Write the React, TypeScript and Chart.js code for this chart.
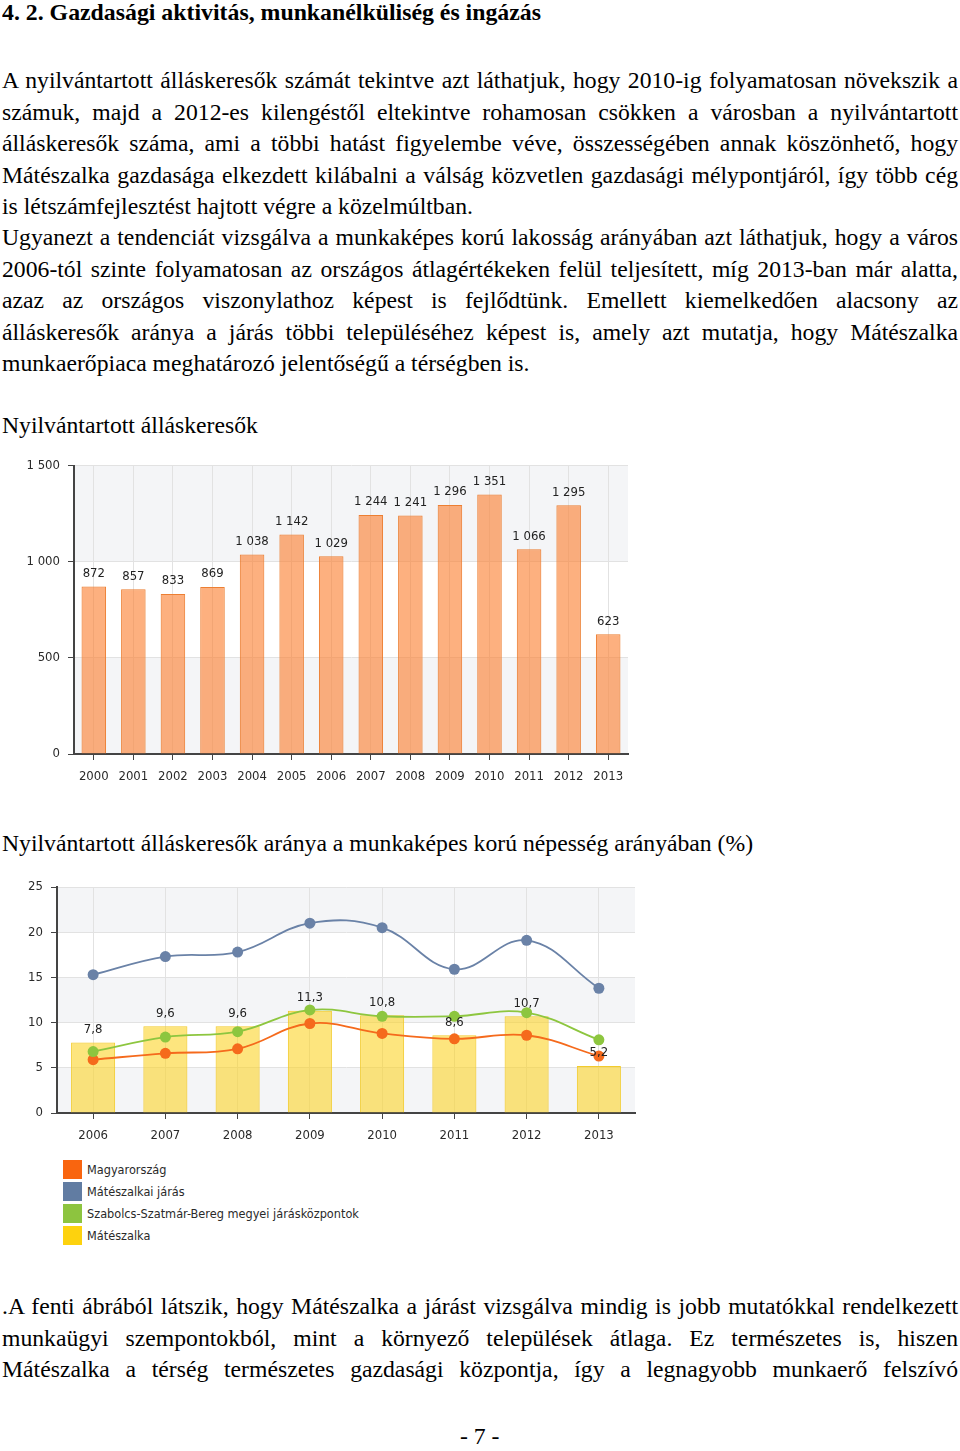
import React, { useEffect, useLayoutEffect, useRef } from 'react';
import { Chart, registerables } from 'chart.js';

Chart.register(...registerables);

// ---------- data ----------
const seekerYears = ['2000', '2001', '2002', '2003', '2004', '2005', '2006', '2007', '2008', '2009', '2010', '2011', '2012', '2013'];
const seekerCounts = [872, 857, 833, 869, 1038, 1142, 1029, 1244, 1241, 1296, 1351, 1066, 1295, 623];
const seekerTicks = [0, 500, 1000, 1500];

const rateYears = ['2006', '2007', '2008', '2009', '2010', '2011', '2012', '2013'];
const rateMateszalka = [7.8, 9.6, 9.6, 11.3, 10.8, 8.6, 10.7, 5.2];
const rateHungary = [5.9, 6.6, 7.1, 9.9, 8.8, 8.2, 8.6, 6.3];
const rateDistrict = [15.3, 17.3, 17.8, 21.0, 20.5, 15.9, 19.1, 13.8];
const rateCountyCentres = [6.8, 8.4, 9.0, 11.4, 10.7, 10.7, 11.1, 8.1];
const rateTicks = [0, 5, 10, 15, 20, 25];

const legendItems = [
  { label: 'Magyarország', color: '#F9650F' },
  { label: 'Mátészalkai járás', color: '#617CA2' },
  { label: 'Szabolcs-Szatmár-Bereg megyei járásközpontok', color: '#8DC43F' },
  { label: 'Mátészalka', color: '#FDD20E' },
];

const para1 = [
  'A nyilvántartott álláskeresők számát tekintve azt láthatjuk, hogy 2010-ig folyamatosan növekszik a',
  'számuk, majd a 2012-es kilengéstől eltekintve rohamosan csökken a városban a nyilvántartott',
  'álláskeresők száma, ami a többi hatást figyelembe véve, összességében annak köszönhető, hogy',
  'Mátészalka gazdasága elkezdett kilábalni a válság közvetlen gazdasági mélypontjáról, így több cég',
  'is létszámfejlesztést hajtott végre a közelmúltban.',
  'Ugyanezt a tendenciát vizsgálva a munkaképes korú lakosság arányában azt láthatjuk, hogy a város',
  '2006-tól szinte folyamatosan az országos átlagértékeken felül teljesített, míg 2013-ban már alatta,',
  'azaz az országos viszonylathoz képest is fejlődtünk. Emellett kiemelkedően alacsony az',
  'álláskeresők aránya a járás többi településéhez képest is, amely azt mutatja, hogy Mátészalka',
  'munkaerőpiaca meghatározó jelentőségű a térségben is.',
];
const para1Justify = [true, true, true, true, false, true, true, true, true, false];
const para3 = [
  '.A fenti ábrából látszik, hogy Mátészalka a járást vizsgálva mindig is jobb mutatókkal rendelkezett',
  'munkaügyi szempontokból, mint a környező települések átlaga. Ez természetes is, hiszen',
  'Mátészalka a térség természetes gazdasági központja, így a legnagyobb munkaerő felszívó',
];

// ---------- layout constants ----------
const TEXT_W = 956;
const FS = 23.7;
const LH = 31.4;
const SERIF = "'Liberation Serif', 'Times New Roman', serif";
const SANS = "'DejaVu Sans Condensed', 'DejaVu Sans', sans-serif";
const TICK_FONT = { family: SANS, size: 13 };

const fmtThousands = (v: number) => String(v).replace(/\B(?=(\d{3})+(?!\d))/g, ' ');
const fmtComma = (v: number) => String(v).replace('.', ',');

function TextLine({ text, baseline, justify, bold, size = FS, left = 2, fitWidth }: any) {
  const ref = useRef<HTMLSpanElement>(null);
  useLayoutEffect(() => {
    const el = ref.current;
    if (!el) return;
    el.style.wordSpacing = '0px';
    el.style.transform = 'none';
    const w = el.getBoundingClientRect().width;
    if (fitWidth) {
      el.style.transform = `scaleX(${fitWidth / w})`;
    } else if (justify) {
      const spaces = (text.match(/ /g) || []).length;
      if (w < TEXT_W && spaces) el.style.wordSpacing = `${(TEXT_W - w) / spaces}px`;
      else if (w > TEXT_W) el.style.transform = `scaleX(${TEXT_W / w})`;
    }
  }, [text, justify, fitWidth]);
  const asc = (LH - 1.107 * size) / 2 + 0.891 * size;
  return (
    <span
      ref={ref}
      style={{
        position: 'absolute',
        left,
        top: baseline - asc,
        whiteSpace: 'pre',
        fontSize: size,
        lineHeight: `${LH}px`,
        fontWeight: bold ? 700 : 400,
        transformOrigin: 'left center',
        display: 'inline-block',
      }}
    >
      {text}
    </span>
  );
}

const bandPlugin = {
  id: 'bands',
  beforeDraw(chart: any) {
    const { ctx, chartArea, scales } = chart;
    const y = scales.y;
    const vals = y.ticks.map((t: any) => t.value);
    ctx.save();
    ctx.fillStyle = '#F4F5F7';
    for (let i = 0; i < vals.length - 1; i++) {
      if (i % 2 === 0) {
        const y0 = y.getPixelForValue(vals[i]);
        const y1 = y.getPixelForValue(vals[i + 1]);
        ctx.fillRect(chartArea.left, y1, chartArea.right - chartArea.left, y0 - y1);
      }
    }
    ctx.restore();
  },
};

function makeValueLabels(datasetIndex: number, format: (v: number) => string, offset: number) {
  return {
    id: 'valueLabels' + datasetIndex,
    afterDatasetsDraw(chart: any) {
      const { ctx } = chart;
      const meta = chart.getDatasetMeta(datasetIndex);
      const data = chart.data.datasets[datasetIndex].data as number[];
      ctx.save();
      ctx.font = `13px ${SANS}`;
      ctx.fillStyle = '#222';
      ctx.textAlign = 'center';
      ctx.textBaseline = 'middle';
      meta.data.forEach((el: any, i: number) => {
        ctx.fillText(format(data[i]), el.x, el.y - offset);
      });
      ctx.restore();
    },
  };
}

function SeekersChart() {
  const ref = useRef<HTMLCanvasElement>(null);
  useEffect(() => {
    const chart = new Chart(ref.current!, {
      type: 'bar',
      data: {
        labels: seekerYears,
        datasets: [
          {
            data: seekerCounts,
            backgroundColor: 'rgba(252,128,48,0.62)',
            borderColor: '#EC7F33',
            borderWidth: 1,
            barPercentage: 0.62,
            categoryPercentage: 1,
          },
        ],
      },
      options: {
        responsive: false,
        animation: false,
        layout: { padding: { top: 14, right: 12, left: 0, bottom: 0 } },
        plugins: { legend: { display: false }, tooltip: { enabled: false } },
        scales: {
          x: {
            grid: { offset: false, color: '#E2E2E2', tickColor: '#444', tickLength: 6 },
            border: { color: '#444', width: 2 },
            ticks: { color: '#2a2a2a', font: TICK_FONT, padding: 9, maxRotation: 0 },
            afterFit: (s: any) => { s.height = 36; },
          },
          y: {
            min: 0,
            max: 1500,
            afterBuildTicks: (s: any) => { s.ticks = seekerTicks.map((v) => ({ value: v })); },
            grid: { color: '#E2E2E2', tickColor: '#444', tickLength: 6 },
            border: { color: '#444', width: 2 },
            ticks: { color: '#2a2a2a', font: TICK_FONT, padding: 8, callback: (v: any) => fmtThousands(Number(v)) },
            afterFit: (s: any) => { s.width = 74; },
          },
        },
      },
      plugins: [bandPlugin, makeValueLabels(0, fmtThousands, 13)],
    } as any);
    return () => chart.destroy();
  }, []);
  return <canvas ref={ref} width={640} height={340} style={{ position: 'absolute', left: 0, top: 450, width: 640, height: 340 }} />;
}

function RateChart() {
  const ref = useRef<HTMLCanvasElement>(null);
  useEffect(() => {
    const line = (label: string, data: number[], color: string, order: number) => ({
      type: 'line',
      label,
      data,
      borderColor: color,
      backgroundColor: color,
      borderWidth: 1.8,
      pointRadius: 5.5,
      pointBorderWidth: 0,
      pointBackgroundColor: color,
      tension: 0.4,
      fill: false,
      order,
    });
    const chart = new Chart(ref.current!, {
      type: 'bar',
      data: {
        labels: rateYears,
        datasets: [
          {
            type: 'bar',
            label: 'Mátészalka',
            data: rateMateszalka,
            backgroundColor: 'rgba(251,212,40,0.6)',
            borderColor: '#F2CB2C',
            borderWidth: 1,
            barPercentage: 0.61,
            categoryPercentage: 1,
            order: 10,
          },
          line('Magyarország', rateHungary, '#F56A1C', 3),
          line('Mátészalkai járás', rateDistrict, '#6A82A7', 2),
          line('Szabolcs-Szatmár-Bereg megyei járásközpontok', rateCountyCentres, '#8DC63F', 1),
        ],
      },
      options: {
        responsive: false,
        animation: false,
        layout: { padding: { top: 17, right: 15, left: 0, bottom: 0 } },
        plugins: { legend: { display: false }, tooltip: { enabled: false } },
        scales: {
          x: {
            grid: { offset: false, color: '#E2E2E2', tickColor: '#444', tickLength: 6 },
            border: { color: '#444', width: 2 },
            ticks: { color: '#2a2a2a', font: TICK_FONT, padding: 9, maxRotation: 0 },
            afterFit: (s: any) => { s.height = 37; },
          },
          y: {
            min: 0,
            max: 25,
            afterBuildTicks: (s: any) => { s.ticks = rateTicks.map((v) => ({ value: v })); },
            grid: { color: '#E2E2E2', tickColor: '#444', tickLength: 6 },
            border: { color: '#444', width: 2 },
            ticks: { color: '#2a2a2a', font: TICK_FONT, padding: 8 },
            afterFit: (s: any) => { s.width = 57; },
          },
        },
      },
      plugins: [bandPlugin, makeValueLabels(0, fmtComma, 13)],
    } as any);
    return () => chart.destroy();
  }, []);
  return <canvas ref={ref} width={650} height={280} style={{ position: 'absolute', left: 0, top: 870, width: 650, height: 280 }} />;
}

function Legend() {
  return (
    <div style={{ position: 'absolute', left: 63, top: 1158, fontFamily: SANS, fontSize: 12.6, color: '#2a2a2a' }}>
      {legendItems.map((it) => (
        <div key={it.label} style={{ display: 'flex', alignItems: 'center', height: 22 }}>
          <span style={{ display: 'inline-block', width: 19, height: 19, background: it.color, marginRight: 5 }} />
          <span>{it.label}</span>
        </div>
      ))}
    </div>
  );
}

export default function App() {
  useLayoutEffect(() => {
    document.body.style.margin = '0';
    document.body.style.background = '#fff';
  }, []);
  return (
    <div style={{ position: 'relative', width: 960, height: 1451, overflow: 'hidden', fontFamily: SERIF, color: '#000', background: '#fff' }}>
      <TextLine text="4. 2. Gazdasági aktivitás, munkanélküliség és ingázás" baseline={20} bold size={23} fitWidth={539} />
      {para1.map((t, i) => (
        <TextLine key={i} text={t} baseline={89 + i * LH} justify={para1Justify[i]} />
      ))}
      <TextLine text="Nyilvántartott álláskeresők" baseline={434} />
      <SeekersChart />
      <TextLine text="Nyilvántartott álláskeresők aránya a munkaképes korú népesség arányában (%)" baseline={852} />
      <RateChart />
      <Legend />
      {para3.map((t, i) => (
        <TextLine key={i} text={t} baseline={1315 + i * LH} justify />
      ))}
      <TextLine text="- 7 -" baseline={1445} left={460} />
    </div>
  );
}
